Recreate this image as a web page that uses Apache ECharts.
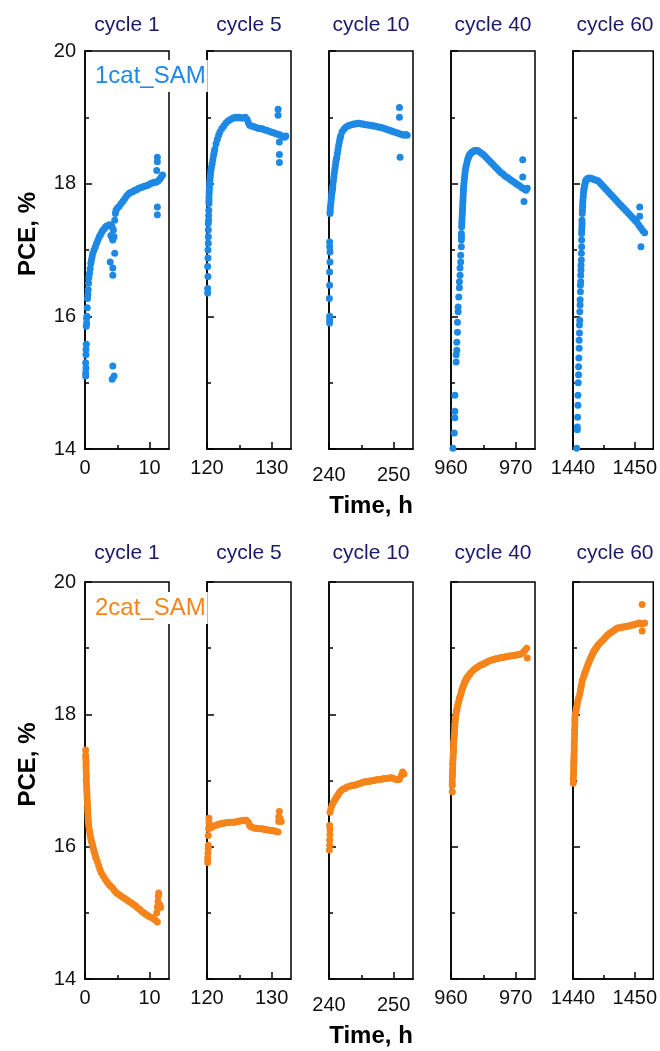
<!DOCTYPE html>
<html>
<head>
<meta charset="utf-8">
<script src="https://cdn.jsdelivr.net/npm/echarts@6/dist/echarts.min.js"></script>
<style>
  html, body { margin: 0; padding: 0; background: #fff; }
  #chart { width: 660px; height: 1051px; }
</style>
</head>
<body>
<div id="chart"></div>
<script>
// ---------------- DATA ----------------
const cycles = ['cycle 1', 'cycle 5', 'cycle 10', 'cycle 40', 'cycle 60'];
const xStarts = [0, 120, 240, 960, 1440];
const xSpan = 13;
const yTicks = [14, 16, 18, 20];
const sampleNames = ['1cat_SAM', '2cat_SAM'];
const sampleColors = ['#1E88E5', '#F5841A'];

// 1cat_SAM
const cat1_cycle1 = [
  [0.1,15.1],[0.1,15.15],[0.15,15.22],[0.1,15.3],[0.15,15.42],[0.15,15.5],[0.2,15.58],[0.2,15.85],[0.25,15.9],[0.25,15.97],[0.3,16.0],[0.35,16.13],[0.4,16.27],[0.45,16.33],[0.5,16.4],[0.55,16.5],[0.6,16.58],
  [0.7,16.65],[0.8,16.72],[0.9,16.8],[1.0,16.85],[1.1,16.9],[1.2,16.95],[1.4,17.0],[1.6,17.05],[1.8,17.1],[2.0,17.15],[2.2,17.2],[2.4,17.23],[2.6,17.27],[2.8,17.3],[3.0,17.32],[3.2,17.35],[3.4,17.36],[3.6,17.37],[3.8,17.38],[4.0,17.36],[4.2,17.35],[4.4,17.3],
  [4.0,17.22],[4.2,17.18],[4.3,17.15],[4.5,17.2],
  [4.6,17.45],[4.7,17.55],[4.8,17.6],[5.0,17.63],[5.3,17.66],[5.6,17.7],[5.9,17.74],[6.2,17.78],[6.5,17.82],[6.8,17.85],[7.1,17.87],[7.4,17.88],[7.7,17.9],[8.0,17.91],[8.3,17.93],[8.6,17.94],[8.9,17.95],[9.2,17.96],[9.5,17.97],[9.8,17.98],[10.1,18.0],[10.4,18.01],[10.7,18.02],[11.0,18.02],[11.3,18.04],[11.6,18.07],[11.8,18.1],[12.0,18.13],
  [11.2,18.4],[11.2,18.33],[11.1,18.2],[11.2,17.65],[11.2,17.53],[3.9,16.82],[4.3,16.73],[4.3,16.62],[4.6,16.95],[4.3,15.25],[4.2,15.05],[4.5,15.1]
];
const cat1_cycle5 = [
  [120.1,16.35],[120.1,16.42],[120.15,16.6],[120.1,16.75],[120.15,16.88],[120.15,17.0],[120.2,17.1],[120.2,17.2],[120.2,17.3],[120.2,17.4],[120.25,17.45],[120.25,17.52],[120.28,17.6],[120.3,17.7],[120.3,17.75],[120.3,17.8],[120.33,17.85],[120.35,17.9],[120.38,17.95],[120.4,18.0],[120.45,18.05],[120.5,18.1],[120.55,18.15],[120.6,18.2],[120.7,18.25],[120.8,18.3],[120.9,18.36],[121.0,18.42],[121.1,18.47],[121.2,18.52],[121.4,18.6],[121.6,18.67],[121.8,18.73],[122.0,18.78],[122.3,18.83],[122.6,18.87],[122.9,18.91],[123.2,18.94],[123.5,18.96],[123.8,18.98],[124.1,18.99],[124.4,19.0],[124.7,18.99],[125.0,19.0],[125.3,18.99],[125.6,18.99],[125.9,19.0],[126.2,18.97],[126.4,18.92],[126.6,18.88],[126.9,18.87],[127.2,18.86],[127.5,18.85],[127.8,18.84],[128.1,18.83],[128.4,18.83],[128.7,18.82],[129.0,18.81],[129.3,18.8],[129.6,18.79],[129.9,18.78],[130.2,18.77],[130.5,18.76],[130.8,18.75],[131.1,18.74],[131.4,18.73],[131.7,18.71],[132.0,18.7],[132.2,18.72],
  [131.0,19.12],[131.0,19.03],[131.2,18.63],[131.2,18.44],[131.2,18.32]
];
const cat1_cycle10 = [
  [240.1,15.9],[240.1,15.95],[240.1,16.0],[240.05,16.27],[240.1,16.47],[240.1,16.67],[240.15,16.82],[240.15,16.97],[240.1,17.05],[240.1,17.12],[240.15,17.55],[240.18,17.58],[240.2,17.62],[240.25,17.67],[240.3,17.72],[240.35,17.77],[240.4,17.82],[240.45,17.86],[240.5,17.9],[240.55,17.93],[240.6,17.97],[240.68,18.04],[240.75,18.1],[240.82,18.16],[240.9,18.22],[240.98,18.27],[241.05,18.32],[241.12,18.36],[241.2,18.4],[241.3,18.46],[241.4,18.52],[241.5,18.58],[241.6,18.63],[241.7,18.68],[241.8,18.72],[242.0,18.78],[242.3,18.82],[242.6,18.85],[242.9,18.87],[243.2,18.88],[243.5,18.89],[243.8,18.9],[244.1,18.9],[244.4,18.91],[244.7,18.91],[245.0,18.9],[245.3,18.9],[245.6,18.89],[245.9,18.89],[246.2,18.88],[246.5,18.88],[246.8,18.87],[247.1,18.87],[247.4,18.86],[247.7,18.85],[248.0,18.85],[248.3,18.84],[248.6,18.83],[248.9,18.82],[249.2,18.81],[249.5,18.8],[249.8,18.79],[250.1,18.78],[250.4,18.77],[250.7,18.76],[251.0,18.75],[251.3,18.74],[251.6,18.73],[251.9,18.74],[252.1,18.73],
  [250.9,19.15],[250.9,19.0],[251.0,18.4]
];
const cat1_cycle40 = [
  [960.3,14.01],[960.5,14.24],[960.6,14.47],[960.6,14.57],[960.6,14.81],[960.8,15.31],[960.8,15.42],[960.9,15.49],[960.9,15.61],[961.0,15.76],[961.0,15.91],[961.1,16.07],[961.1,16.14],[961.2,16.29],[961.3,16.43],[961.3,16.52],[961.4,16.62],[961.4,16.73],[961.5,16.82],[961.5,16.92],[961.6,17.05],[961.6,17.15],[961.62,17.2],[961.6,17.25],[961.65,17.35],[961.67,17.4],[961.7,17.45],[961.72,17.5],[961.75,17.55],[961.77,17.6],[961.8,17.65],[961.82,17.7],[961.85,17.75],[961.87,17.8],[961.9,17.85],[961.92,17.9],[961.95,17.95],[962.0,18.0],[962.05,18.05],[962.1,18.1],[962.15,18.15],[962.22,18.2],[962.3,18.25],[962.4,18.29],[962.5,18.33],[962.6,18.37],[962.7,18.4],[962.8,18.42],[962.9,18.44],[963.05,18.46],[963.2,18.47],[963.35,18.48],[963.5,18.49],[963.65,18.5],[963.8,18.5],[964.1,18.5],[964.4,18.48],[964.7,18.46],[965.0,18.44],[965.3,18.41],[965.6,18.38],[965.9,18.35],[966.2,18.32],[966.5,18.29],[966.8,18.26],[967.1,18.23],[967.4,18.2],[967.7,18.17],[968.0,18.15],[968.3,18.12],[968.6,18.1],[968.9,18.08],[969.2,18.06],[969.5,18.04],[969.8,18.02],[970.1,18.0],[970.4,17.98],[970.7,17.96],[971.0,17.94],[971.3,17.92],[971.6,17.9],[971.8,17.93],
  [971.1,18.36],[971.1,18.1],[971.3,17.73]
];
const cat1_cycle60 = [
  [1440.6,14.01],[1440.7,14.29],[1440.7,14.33],[1440.75,14.48],[1440.8,14.66],[1440.8,14.81],[1440.85,15.0],[1440.9,15.12],[1440.9,15.24],[1440.95,15.37],[1441.0,15.52],[1441.0,15.64],[1441.05,15.75],[1441.05,15.87],[1441.1,15.94],[1441.1,16.07],[1441.15,16.17],[1441.15,16.25],[1441.2,16.37],[1441.2,16.47],[1441.25,16.52],[1441.25,16.62],[1441.3,16.7],[1441.3,16.77],[1441.35,16.85],[1441.35,16.95],[1441.4,17.05],[1441.4,17.15],[1441.4,17.25],[1441.42,17.3],[1441.45,17.35],[1441.47,17.4],[1441.45,17.45],[1441.5,17.55],[1441.52,17.6],[1441.55,17.65],[1441.57,17.7],[1441.6,17.75],[1441.65,17.8],[1441.7,17.85],[1441.75,17.9],[1441.8,17.93],[1441.87,17.97],[1441.95,18.0],[1442.0,18.03],[1442.1,18.05],[1442.2,18.06],[1442.3,18.07],[1442.45,18.08],[1442.6,18.08],[1442.75,18.08],[1442.9,18.08],[1443.2,18.07],[1443.5,18.06],[1443.8,18.05],[1444.1,18.04],[1444.4,18.01],[1444.7,17.98],[1445.0,17.95],[1445.3,17.92],[1445.6,17.89],[1445.9,17.86],[1446.2,17.83],[1446.5,17.8],[1446.8,17.77],[1447.1,17.74],[1447.4,17.71],[1447.7,17.68],[1448.0,17.65],[1448.3,17.62],[1448.6,17.59],[1448.9,17.56],[1449.2,17.53],[1449.5,17.5],[1449.8,17.47],[1450.1,17.44],[1450.4,17.41],[1450.7,17.37],[1451.0,17.33],[1451.3,17.29],[1451.6,17.26],
  [1450.8,17.65],[1450.8,17.51],[1451.0,17.05]
];

// 2cat_SAM
const cat2_cycle1 = [
  [0.1,17.46],[0.1,17.38],[0.12,17.34],[0.15,17.3],[0.17,17.25],[0.15,17.2],[0.18,17.15],[0.2,17.1],[0.22,17.05],[0.2,17.0],[0.23,16.95],[0.25,16.9],[0.28,16.85],[0.3,16.81],[0.32,16.75],[0.35,16.7],[0.38,16.65],[0.4,16.6],[0.42,16.55],[0.45,16.5],[0.48,16.45],[0.5,16.4],[0.55,16.35],[0.6,16.3],[0.68,16.25],[0.75,16.2],[0.82,16.16],[0.9,16.12],[1.0,16.08],[1.1,16.05],[1.2,16.01],[1.3,15.97],[1.4,15.93],[1.5,15.9],[1.6,15.86],[1.7,15.83],[1.9,15.78],[2.1,15.72],[2.3,15.66],[2.5,15.61],[2.8,15.56],[3.1,15.51],[3.4,15.47],[3.7,15.43],[4.0,15.4],[4.3,15.37],[4.6,15.33],[4.9,15.3],[5.2,15.28],[5.5,15.26],[5.8,15.24],[6.1,15.22],[6.4,15.2],[6.7,15.18],[7.0,15.16],[7.3,15.14],[7.6,15.12],[7.9,15.1],[8.2,15.07],[8.5,15.05],[8.8,15.02],[9.1,15.0],[9.4,14.98],[9.7,14.96],[10.0,14.94],[10.3,14.93],[10.6,14.91],[10.9,14.89],[11.2,14.86],
  [11.1,15.0],[11.2,15.09],[11.3,15.17],[11.35,15.25],[11.4,15.3],[11.6,15.12],[11.7,15.08]
];
const cat2_cycle5 = [
  [120.1,15.76],[120.1,15.82],[120.15,15.9],[120.2,15.97],[120.2,16.02],[120.2,16.17],[120.25,16.27],[120.3,16.36],[120.3,16.43],[120.45,16.3],[120.7,16.29],[121.0,16.31],[121.3,16.32],[121.6,16.33],[121.9,16.34],[122.2,16.35],[122.5,16.35],[122.8,16.36],[123.1,16.36],[123.4,16.37],[123.7,16.37],[124.0,16.37],[124.3,16.37],[124.6,16.38],[124.9,16.38],[125.2,16.39],[125.5,16.39],[125.8,16.4],[126.1,16.4],[126.4,16.37],[126.6,16.32],[126.8,16.3],[127.1,16.29],[127.4,16.28],[127.7,16.28],[128.0,16.27],[128.3,16.27],[128.6,16.27],[128.9,16.26],[129.2,16.26],[129.5,16.25],[129.8,16.25],[130.1,16.24],[130.4,16.24],[130.7,16.23],[131.0,16.22],
  [131.1,16.38],[131.1,16.45],[131.2,16.53],[131.3,16.43],[131.5,16.38]
];
const cat2_cycle10 = [
  [240.05,15.95],[240.1,16.02],[240.1,16.1],[240.15,16.18],[240.15,16.26],[240.1,16.32],[240.15,16.52],[240.3,16.58],[240.5,16.63],[240.7,16.67],[240.9,16.71],[241.1,16.74],[241.3,16.77],[241.5,16.8],[241.7,16.83],[241.9,16.85],[242.2,16.87],[242.5,16.88],[242.8,16.9],[243.1,16.91],[243.4,16.92],[243.7,16.93],[244.0,16.93],[244.3,16.94],[244.6,16.95],[244.9,16.96],[245.2,16.97],[245.5,16.98],[245.8,16.98],[246.1,16.99],[246.4,16.99],[246.7,17.0],[247.0,17.0],[247.3,17.01],[247.6,17.01],[247.9,17.02],[248.2,17.02],[248.5,17.03],[248.8,17.03],[249.1,17.03],[249.4,17.04],[249.7,17.04],[250.0,17.03],[250.3,17.02],[250.6,17.01],[250.9,17.02],[251.2,17.08],[251.4,17.13],[251.6,17.1]
];
const cat2_cycle40 = [
  [960.2,16.83],[960.2,16.93],[960.2,16.98],[960.2,17.04],[960.22,17.08],[960.25,17.13],[960.25,17.18],[960.25,17.24],[960.28,17.27],[960.3,17.31],[960.32,17.35],[960.35,17.4],[960.38,17.44],[960.4,17.48],[960.4,17.52],[960.4,17.57],[960.45,17.61],[960.5,17.66],[960.52,17.7],[960.55,17.75],[960.58,17.8],[960.6,17.85],[960.65,17.9],[960.7,17.94],[960.78,18.0],[960.85,18.05],[960.92,18.09],[961.0,18.12],[961.1,18.16],[961.2,18.2],[961.3,18.24],[961.4,18.27],[961.5,18.3],[961.6,18.34],[961.7,18.37],[961.8,18.4],[961.9,18.43],[962.0,18.45],[962.1,18.48],[962.2,18.5],[962.3,18.52],[962.4,18.54],[962.55,18.56],[962.7,18.58],[962.85,18.6],[963.0,18.62],[963.3,18.65],[963.6,18.68],[963.9,18.7],[964.2,18.72],[964.5,18.74],[964.8,18.75],[965.1,18.77],[965.4,18.78],[965.7,18.8],[966.0,18.81],[966.3,18.82],[966.6,18.83],[966.9,18.84],[967.2,18.84],[967.5,18.85],[967.8,18.86],[968.1,18.86],[968.4,18.87],[968.7,18.87],[969.0,18.88],[969.3,18.88],[969.6,18.89],[969.9,18.89],[970.2,18.9],[970.5,18.9],[970.8,18.91],[971.1,18.93],[971.4,18.96],[971.7,19.0],[971.8,18.85]
];
const cat2_cycle60 = [
  [1440.05,16.96],[1440.05,17.03],[1440.08,17.08],[1440.1,17.13],[1440.1,17.18],[1440.1,17.22],[1440.12,17.26],[1440.15,17.29],[1440.15,17.33],[1440.15,17.36],[1440.18,17.41],[1440.2,17.46],[1440.2,17.5],[1440.2,17.55],[1440.22,17.6],[1440.25,17.64],[1440.25,17.7],[1440.25,17.75],[1440.28,17.8],[1440.3,17.86],[1440.3,17.91],[1440.3,17.96],[1440.38,18.0],[1440.45,18.04],[1440.52,18.08],[1440.6,18.11],[1440.7,18.16],[1440.8,18.21],[1440.95,18.26],[1441.1,18.31],[1441.2,18.36],[1441.3,18.41],[1441.4,18.46],[1441.5,18.51],[1441.65,18.55],[1441.8,18.59],[1441.92,18.63],[1442.05,18.66],[1442.18,18.69],[1442.3,18.72],[1442.45,18.76],[1442.6,18.79],[1442.75,18.83],[1442.9,18.86],[1443.05,18.89],[1443.2,18.92],[1443.35,18.95],[1443.5,18.97],[1443.65,18.99],[1443.8,19.01],[1443.95,19.03],[1444.1,19.05],[1444.4,19.08],[1444.7,19.11],[1445.0,19.14],[1445.3,19.17],[1445.6,19.2],[1445.9,19.22],[1446.2,19.24],[1446.5,19.26],[1446.8,19.28],[1447.1,19.3],[1447.4,19.31],[1447.7,19.31],[1448.0,19.32],[1448.3,19.32],[1448.6,19.33],[1448.9,19.33],[1449.2,19.34],[1449.5,19.35],[1449.8,19.35],[1450.1,19.36],[1450.4,19.37],[1450.7,19.38],[1451.0,19.37],[1451.3,19.37],[1451.6,19.38],
  [1451.2,19.66],[1451.2,19.26]
];

const rowsData = [
  [cat1_cycle1, cat1_cycle5, cat1_cycle10, cat1_cycle40, cat1_cycle60],
  [cat2_cycle1, cat2_cycle5, cat2_cycle10, cat2_cycle40, cat2_cycle60]
];

// ---------------- LAYOUT ----------------
const FONT = 'Liberation Sans, Arial, sans-serif';
const panelLefts = [85, 207, 329, 451, 573];
const panelW = 84;
const rowTops = [51, 582];
const rowH = [398, 397];
const titleY = [25, 553];
const labelMargins = [9, 9, 16, 9, 9];

const grid = [], xAxis = [], yAxis = [], series = [], graphic = [];
let gi = 0;
for (let r = 0; r < 2; r++) {
  for (let c = 0; c < 5; c++) {
    grid.push({
      left: panelLefts[c], top: rowTops[r], width: panelW, height: rowH[r],
      show: true, borderColor: '#000', borderWidth: 1.5, backgroundColor: 'transparent'
    });
    const x0 = xStarts[c];
    xAxis.push({
      type: 'value', gridIndex: gi, min: x0, max: x0 + xSpan, interval: 10,
      axisLine: { show: true, lineStyle: { color: '#000', width: 1.5 } },
      axisTick: { show: true, inside: true, length: 7, lineStyle: { color: '#000', width: 1.5 }, customValues: [x0, x0 + 10] },
      axisLabel: { show: true, color: '#111', fontSize: 20, fontFamily: FONT, margin: labelMargins[c],
                   customValues: [x0, x0 + 10], formatter: v => String(v) },
      splitLine: { show: false }
    });
    yAxis.push({
      type: 'value', gridIndex: gi, min: 14, max: 20, interval: 2,
      axisLine: { show: true, lineStyle: { color: '#000', width: 1.5 } },
      axisTick: { show: true, inside: true, length: 7, lineStyle: { color: '#000', width: 1.5 } },
      minorTick: { show: true, splitNumber: 2, length: 4, lineStyle: { color: '#000', width: 1.5 } },
      axisLabel: { show: c === 0, color: '#111', fontSize: 20, fontFamily: FONT, margin: 9 },
      splitLine: { show: false }, minorSplitLine: { show: false }
    });
    series.push({
      type: 'scatter', xAxisIndex: gi, yAxisIndex: gi,
      data: rowsData[r][c], symbolSize: 7,
      itemStyle: { color: sampleColors[r], opacity: 1 },
      emphasis: { disabled: true }, silent: true
    });
    graphic.push({
      type: 'text', x: panelLefts[c] + panelW / 2, y: titleY[r],
      style: { text: cycles[c], fill: '#1a1a6b', font: '21px ' + FONT,
               align: 'center', verticalAlign: 'middle', textAlign: 'center', textVerticalAlign: 'middle' }
    });
    gi++;
  }
}
// minor x ticks (midpoint) via secondary axes
for (let r = 0; r < 2; r++) {
  for (let c = 0; c < 5; c++) {
    const x0 = xStarts[c];
    xAxis.push({
      type: 'value', gridIndex: r * 5 + c, min: x0, max: x0 + xSpan, position: 'bottom',
      axisLine: { show: false },
      axisTick: { show: true, inside: true, length: 4, lineStyle: { color: '#000', width: 1.5 }, customValues: [x0 + 5] },
      axisLabel: { show: false }, splitLine: { show: false }
    });
  }
}

// sample labels and axis names
const labelY = [76, 608];
for (let r = 0; r < 2; r++) {
  graphic.push({
    type: 'text', x: 93, y: labelY[r], z: 100,
    style: { text: sampleNames[r], fill: sampleColors[r], font: '24px ' + FONT,
             align: 'left', verticalAlign: 'middle', textAlign: 'left', textVerticalAlign: 'middle',
             backgroundColor: '#fff', padding: [4, 2, 4, 2] }
  });
  graphic.push({
    type: 'text', x: 28, y: rowTops[r] + rowH[r] / 2 - 16, rotation: Math.PI / 2, z: 100,
    style: { text: 'PCE, %', fill: '#000', font: 'bold 24px ' + FONT,
             align: 'center', verticalAlign: 'middle', textAlign: 'center', textVerticalAlign: 'middle' }
  });
  graphic.push({
    type: 'text', x: 371, y: rowTops[r] + rowH[r] + 57, z: 100,
    style: { text: 'Time, h', fill: '#000', font: 'bold 24px ' + FONT,
             align: 'center', verticalAlign: 'middle', textAlign: 'center', textVerticalAlign: 'middle' }
  });
}

const chart = echarts.init(document.getElementById('chart'), null, { renderer: 'canvas' });
chart.setOption({
  backgroundColor: '#fff',
  animation: false,
  grid, xAxis, yAxis, series, graphic
});
</script>
</body>
</html>
